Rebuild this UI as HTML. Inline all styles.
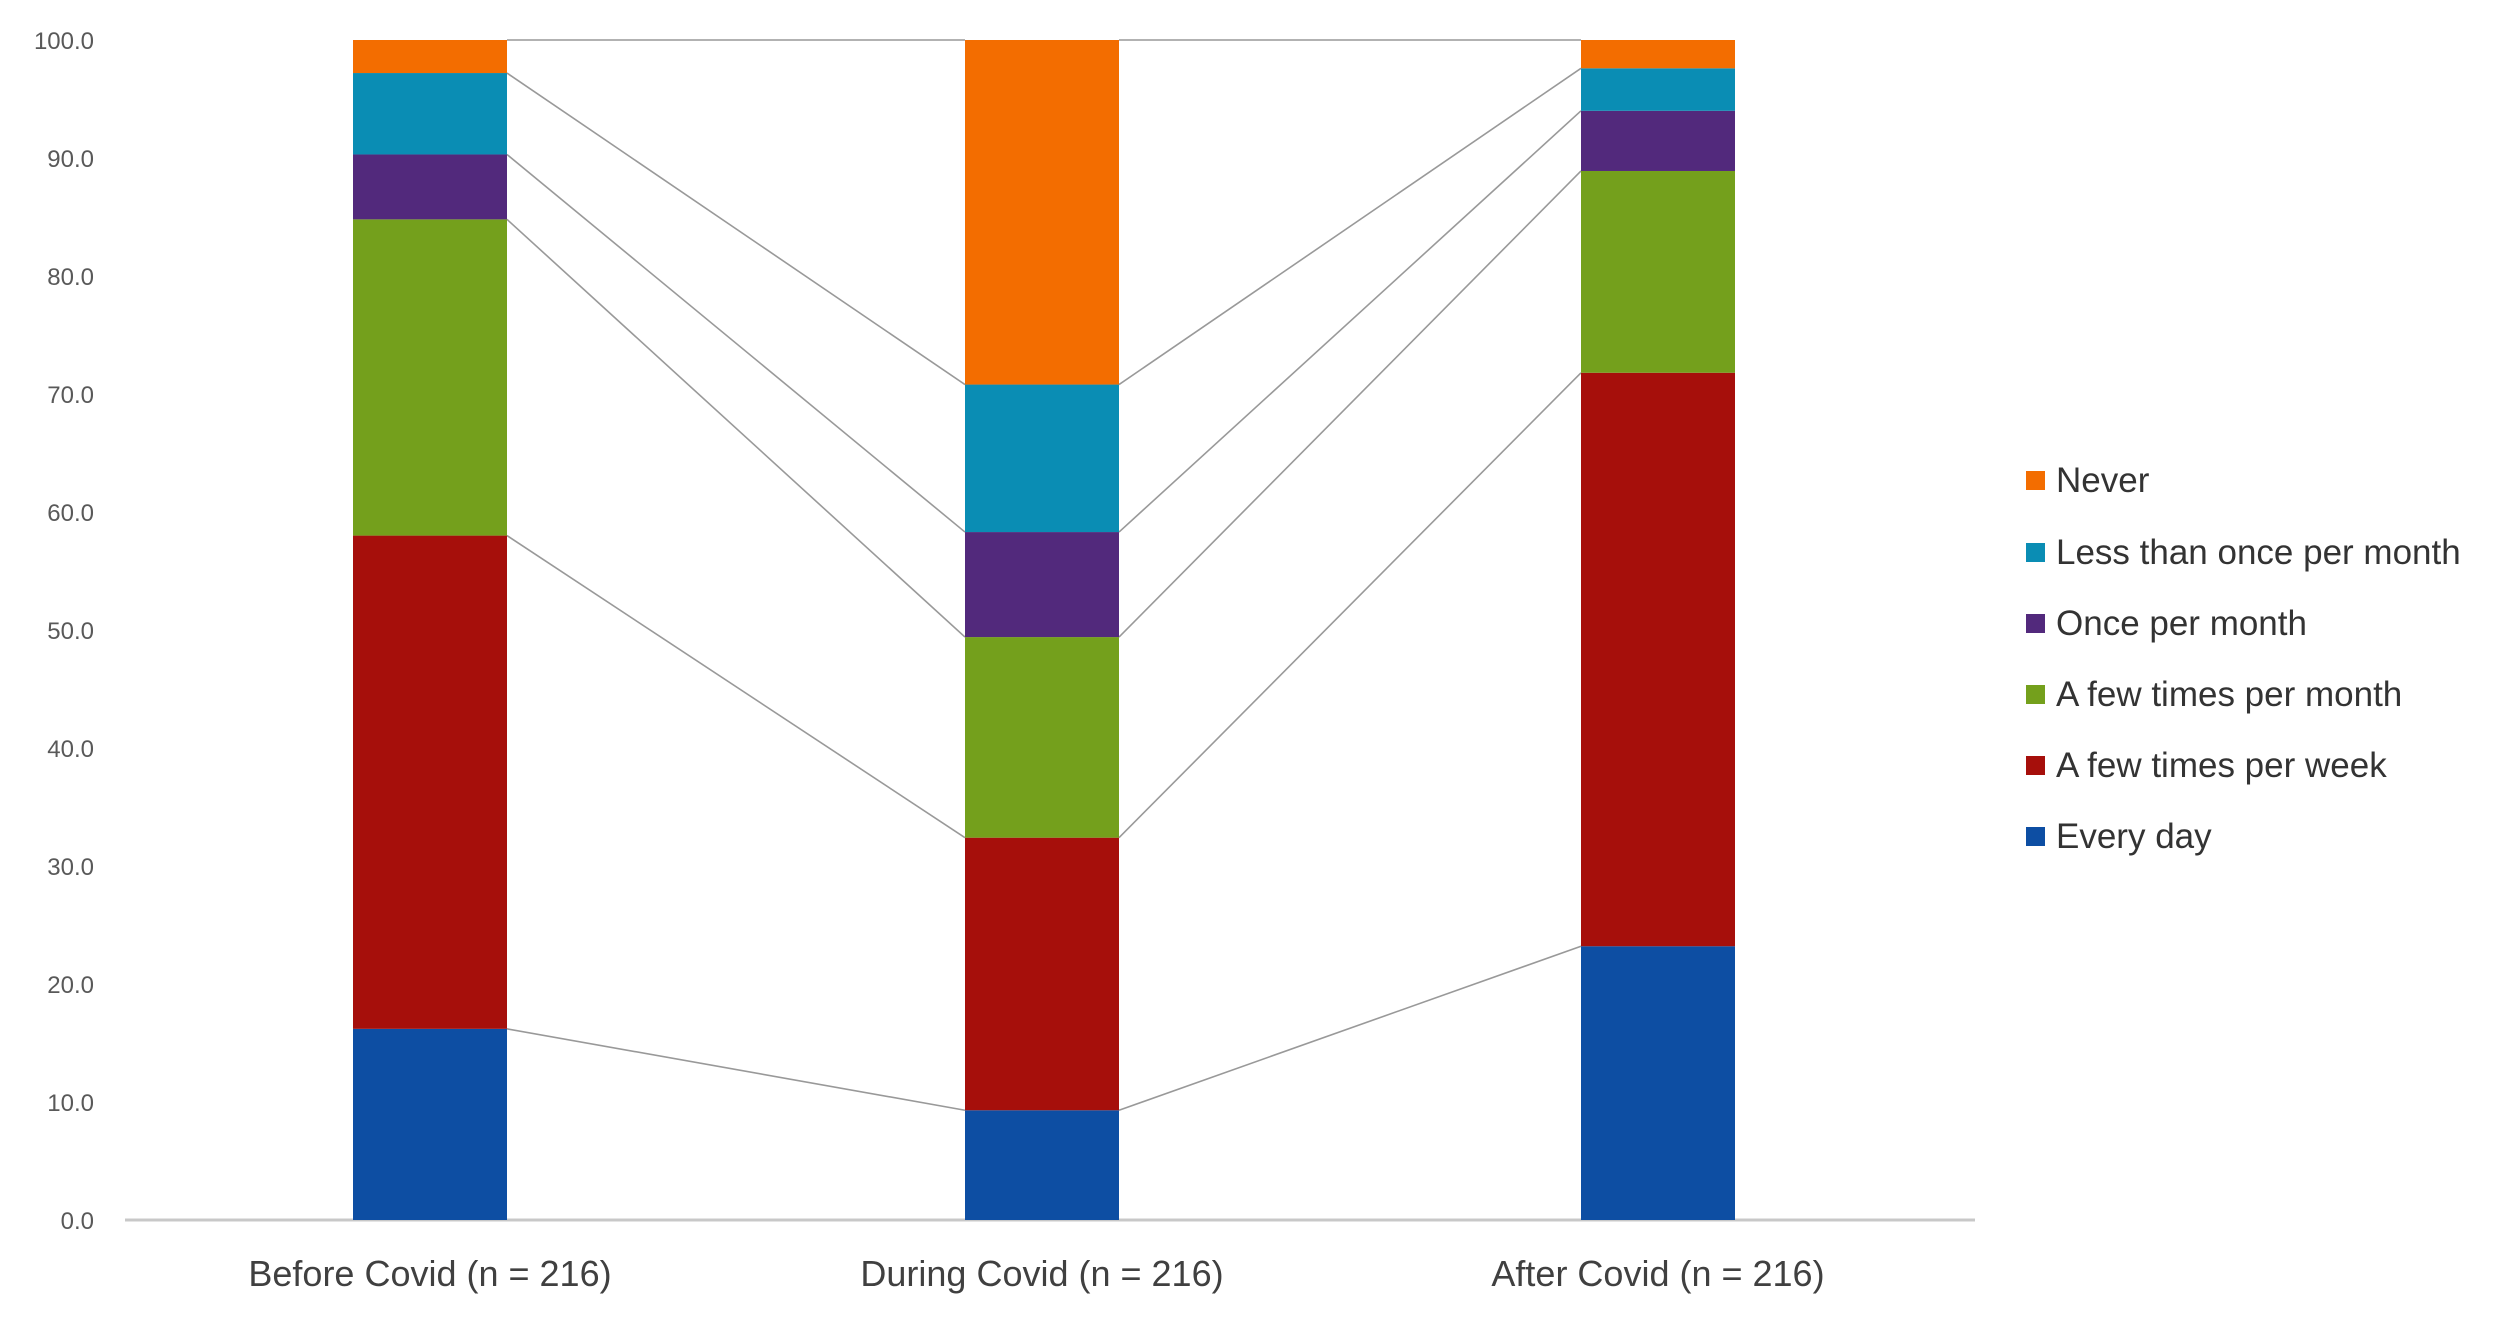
<!DOCTYPE html>
<html><head><meta charset="utf-8"><style>
html,body{margin:0;padding:0;background:#fff;width:2517px;height:1332px;overflow:hidden}
svg{display:block}
text{font-family:"Liberation Sans",sans-serif}
</style></head><body>
<svg id="chart" width="2517" height="1332">
<defs><filter id="sh" x="-5%" y="-200%" width="110%" height="500%"><feGaussianBlur stdDeviation="3"/></filter></defs>
<g id="axes"></g><g id="links"></g><g id="bars"></g><g id="legend"></g>
</svg>
<script>
const categories=["Before Covid (n = 216)","During Covid (n = 216)","After Covid (n = 216)"];
const seriesNames=["Every day","A few times per week","A few times per month","Once per month","Less than once per month","Never"];
const everyDay=[16.2,9.3,23.2];
const fewPerWeek=[41.8,23.1,48.6];
const fewPerMonth=[26.8,17.0,17.1];
const oncePerMonth=[5.5,8.9,5.1];
const lessThanOnce=[6.9,12.5,3.6];
const never=[2.8,29.2,2.4];
const yTicks=[0,10,20,30,40,50,60,70,80,90,100];
const colors=["#0d4ea3","#a60f0b","#74a01c","#52297c","#0a8db4","#f36d00"];
const series=[everyDay,fewPerWeek,fewPerMonth,oncePerMonth,lessThanOnce,never];
const NS="http://www.w3.org/2000/svg";
const Y0=1220,Y1=40,BW=154;
const centers=[430,1042,1658];
const y=v=>Y0-(v/100)*(Y0-Y1);
const x=i=>centers[i];
function mk(t,a,p){const e=document.createElementNS(NS,t);for(const k in a)e.setAttribute(k,a[k]);p.appendChild(e);return e;}
const axes=document.getElementById('axes'),bars=document.getElementById('bars'),links=document.getElementById('links'),legend=document.getElementById('legend');
yTicks.forEach(v=>{const t=mk('text',{x:94,y:y(v)+9,'text-anchor':'end','font-size':24,fill:'#595959'},axes);t.textContent=v.toFixed(1);

});
const shadow=mk('line',{x1:125,y1:Y0+4,x2:1975,y2:Y0+4,stroke:'#bbb','stroke-width':5,filter:'url(#sh)'},axes);


const ax=mk('line',{x1:125,y1:Y0,x2:1975,y2:Y0,stroke:'#c8c8c8','stroke-width':3},axes);


categories.forEach((c,i)=>{const t=mk('text',{x:x(i),y:1286,'text-anchor':'middle','font-size':36,fill:'#404040'},axes);t.textContent=c;

});
const cum=categories.map((c,i)=>{let s=0;return series.map(a=>{const b=s;s+=a[i];return [b,s];});});
for(let k=0;k<series.length;k++){for(let i=0;i<categories.length-1;i++){
const l=mk('line',{x1:x(i)+BW/2,y1:y(cum[i][k][1]),x2:x(i+1)-BW/2,y2:y(cum[i+1][k][1]),stroke:'#999','stroke-width':1.6},links);

}}
categories.forEach((c,i)=>{series.forEach((a,k)=>{const [b,t]=cum[i][k];
const r=mk('rect',{x:x(i)-BW/2,y:y(t),width:BW,height:y(b)-y(t),fill:colors[k]},bars);

});});
const rows=[480,552,623,694,765,836];
for(let k=5;k>=0;k--){const ry=rows[5-k];
const sq=mk('rect',{x:2026,y:ry-9,width:19,height:19,fill:colors[k]},legend);


const t=mk('text',{x:2056,y:ry+12,'font-size':35,fill:'#333'},legend);t.textContent=seriesNames[k];

}
</script>
</body></html>
